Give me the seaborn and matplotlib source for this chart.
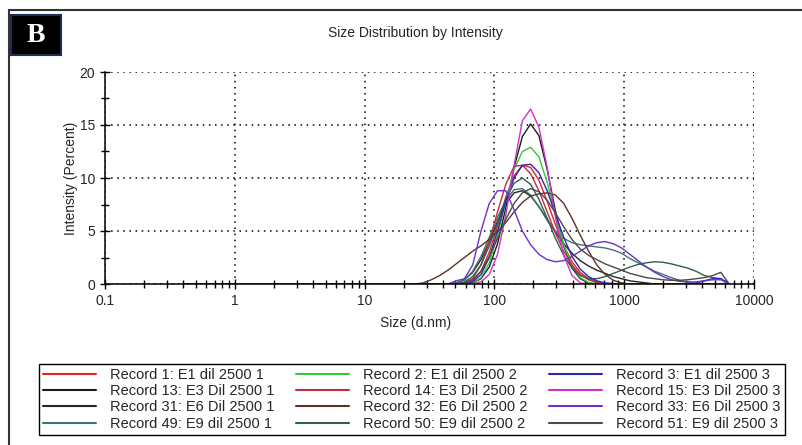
import numpy as np
import pandas as pd
import matplotlib
matplotlib.use('Agg')
import matplotlib.pyplot as plt
import seaborn as sns
from matplotlib.patches import Rectangle
from matplotlib.ticker import FixedLocator, LogLocator, NullFormatter, MultipleLocator

# DLS size bins (d.nm), values below 24 nm are all zero
size_nm = [0.4, 24.36, 28.21, 32.67, 37.84, 43.82, 50.75, 58.77, 68.06, 78.82,
           91.28, 105.7, 122.4, 141.8, 164.2, 190.1, 220.2, 255.0, 295.3, 342.0,
           396.1, 458.7, 531.2, 615.1, 712.4, 825.0, 955.4, 1106, 1281, 1484,
           1718, 1990, 2305, 2669, 3091, 3580, 4145, 4801, 5560, 6439]

rec1 = [0, 0, 0, 0, 0, 0, 0, 0, 0.3, 1.2,
        3.0, 5.5, 8.2, 10.2, 11.2, 11.0, 9.8, 7.8, 5.6, 3.6,
        2.1, 1.1, 0.5, 0.2, 0.05, 0, 0, 0, 0, 0,
        0, 0, 0, 0, 0, 0, 0, 0, 0, 0]
rec2 = [0, 0, 0, 0, 0, 0, 0, 0, 0.1, 0.6,
        2.0, 4.6, 7.8, 10.8, 12.5, 12.9, 12.0, 9.6, 6.5, 3.7,
        1.7, 0.6, 0.15, 0, 0, 0, 0, 0, 0, 0,
        0, 0, 0, 0, 0, 0, 0, 0, 0, 0]
rec3 = [0, 0, 0, 0, 0, 0, 0, 0, 0.2, 0.9,
        2.5, 5.0, 7.8, 10.0, 11.2, 11.3, 10.5, 8.8, 6.6, 4.4,
        2.6, 1.4, 0.7, 0.3, 0.1, 0.05, 0, 0, 0, 0,
        0, 0, 0, 0, 0, 0.1, 0.3, 0.5, 0.5, 0]
rec13 = [0, 0, 0, 0, 0, 0, 0, 0, 0.1, 0.5,
         1.6, 3.8, 7.2, 11.0, 13.9, 15.1, 14.0, 10.8, 6.9, 3.6,
         1.5, 0.5, 0.1, 0, 0, 0, 0, 0, 0, 0,
         0, 0, 0, 0, 0, 0, 0, 0, 0, 0]
rec14 = [0, 0, 0, 0, 0, 0, 0, 0.1, 0.5, 1.8,
         4.0, 6.8, 9.4, 11.1, 11.2, 10.4, 8.8, 6.8, 4.8, 3.1,
         1.8, 0.9, 0.4, 0.15, 0, 0, 0, 0, 0, 0,
         0, 0, 0, 0, 0, 0, 0, 0, 0, 0]
rec15 = [0, 0, 0, 0, 0, 0, 0, 0, 0, 0.2,
         0.9, 2.8, 6.5, 11.2, 15.4, 16.5, 14.8, 11.0, 6.3, 2.7,
         0.8, 0.1, 0, 0, 0, 0, 0, 0, 0, 0,
         0, 0, 0, 0, 0, 0, 0, 0, 0, 0]
rec31 = [0, 0, 0, 0, 0, 0, 0.1, 0.4, 1.1, 2.3,
         4.0, 5.9, 7.6, 8.6, 8.8, 8.3, 7.3, 6.1, 4.9, 3.8,
         2.9, 2.2, 1.7, 1.3, 1.0, 0.7, 0.5, 0.3, 0.2, 0.1,
         0, 0, 0, 0, 0, 0, 0, 0, 0, 0]
rec32 = [0, 0, 0.1, 0.4, 0.8, 1.3, 1.9, 2.5, 3.1, 3.6,
         4.2, 4.9, 5.8, 6.8, 7.7, 8.3, 8.5, 8.6, 8.4, 7.6,
         6.2, 4.6, 3.1, 1.8, 0.9, 0.35, 0.1, 0, 0, 0,
         0, 0, 0, 0, 0, 0, 0, 0, 0, 0]
rec33 = [0, 0, 0, 0, 0, 0, 0.3, 0.5, 1.8, 5.0,
         7.6, 8.8, 8.8, 7.0, 5.0, 3.7, 2.8, 2.3, 2.1, 2.2,
         2.6, 3.1, 3.6, 3.9, 4.0, 3.8, 3.4, 2.8, 2.2, 1.6,
         1.1, 0.7, 0.4, 0.25, 0.2, 0.2, 0.3, 0.4, 0.4, 0]
rec49 = [0, 0, 0, 0, 0, 0, 0.1, 0.4, 1.2, 2.6,
         4.4, 6.3, 7.9, 8.9, 9.0, 8.4, 7.3, 6.0, 5.0, 4.3,
         3.9, 3.7, 3.6, 3.5, 3.4, 3.2, 2.9, 2.4, 2.0, 1.6,
         1.2, 0.9, 0.6, 0.35, 0.15, 0.05, 0, 0, 0, 0]
rec50 = [0, 0, 0, 0, 0, 0, 0, 0.2, 0.7, 1.8,
         3.6, 5.8, 8.0, 9.5, 10.0, 9.4, 8.0, 6.2, 4.3, 2.7,
         1.5, 0.8, 0.5, 0.5, 0.7, 1.0, 1.3, 1.6, 1.85, 2.0,
         2.1, 2.05, 1.9, 1.7, 1.5, 1.2, 0.8, 0.6, 0.5, 0]
rec51 = [0, 0, 0, 0, 0, 0, 0, 0.1, 0.4, 1.2,
         2.6, 4.3, 6.1, 7.6, 8.6, 9.0, 8.7, 7.9, 6.7, 5.4,
         4.2, 3.3, 2.7, 2.3, 1.9, 1.6, 1.3, 1.0, 0.8, 0.6,
         0.5, 0.4, 0.35, 0.35, 0.4, 0.5, 0.6, 0.8, 1.1, 0]

records = {
    'Record 1: E1 dil 2500 1': (rec1, '#e3222b'),
    'Record 13: E3 Dil 2500 1': (rec13, '#1c1c1c'),
    'Record 31: E6 Dil 2500 1': (rec31, '#262626'),
    'Record 49: E9 dil 2500 1': (rec49, '#3f7474'),
    'Record 2: E1 dil 2500 2': (rec2, '#35c935'),
    'Record 14: E3 Dil 2500 2': (rec14, '#c42a45'),
    'Record 32: E6 Dil 2500 2': (rec32, '#5e3227'),
    'Record 50: E9 dil 2500 2': (rec50, '#2f5e4b'),
    'Record 3: E1 dil 2500 3': (rec3, '#2a2ab0'),
    'Record 15: E3 Dil 2500 3': (rec15, '#cc33cc'),
    'Record 33: E6 Dil 2500 3': (rec33, '#6a32cc'),
    'Record 51: E9 dil 2500 3': (rec51, '#4a4a4a'),
}

rows = []
for name, (vals, _) in records.items():
    for s, v in zip(size_nm, vals):
        rows.append((name, s, v))
df = pd.DataFrame(rows, columns=['record', 'size', 'intensity'])
palette = {k: c for k, (_, c) in records.items()}
order = list(records.keys())

sns.set_style('white')
plt.rcParams['font.family'] = ['Liberation Sans', 'DejaVu Sans']

W, H = 803, 445
fig = plt.figure(figsize=(W / 100, H / 100), dpi=100)
ax = fig.add_axes([105 / W, 1 - 284 / H, (754 - 105) / W, (284 - 72) / H])

sns.lineplot(data=df, x='size', y='intensity', hue='record', hue_order=order,
             palette=palette, estimator=None, sort=False, lw=1.0, ax=ax)
handles, labels = ax.get_legend_handles_labels()
ax.get_legend().remove()

ax.set_xscale('log')
ax.set_xlim(0.1, 10000)
ax.set_ylim(0, 20)
ax.xaxis.set_major_locator(FixedLocator([0.1, 1, 10, 100, 1000, 10000]))
ax.set_xticklabels(['0.1', '1', '10', '100', '1000', '10000'])
ax.xaxis.set_minor_locator(LogLocator(base=10, subs=np.arange(2, 10)))
ax.xaxis.set_minor_formatter(NullFormatter())
ax.yaxis.set_major_locator(MultipleLocator(5))
ax.yaxis.set_minor_locator(MultipleLocator(2.5))

ax.grid(True, which='major', color='black', linestyle=(0, (1, 3)), lw=1.1)
for side in ['top', 'right']:
    ax.spines[side].set_visible(False)
for side in ['left', 'bottom']:
    ax.spines[side].set_color('black')
    ax.spines[side].set_linewidth(1.1)
ax.tick_params(which='both', direction='inout', color='black', labelsize=10,
               bottom=True, left=True)
ax.tick_params(which='major', length=7, width=1)
ax.tick_params(which='minor', length=6, width=1)
ax.set_xlabel('')
ax.set_ylabel('Intensity (Percent)', fontsize=10)
ax.yaxis.set_label_coords((78 - 105) / (754 - 105), 0.5)

fig.text(416 / W, 1 - 323 / H, 'Size (d.nm)', ha='center', va='center', fontsize=10)
fig.text(415 / W, 1 - 33 / H, 'Size Distribution by Intensity', ha='center',
         va='center', fontsize=10)

# outer frame and panel letter
fig.add_artist(Rectangle((9 / W, -0.1), 1.2, 1.1 - 10 / H, transform=fig.transFigure,
                         fill=False, edgecolor='#333333', lw=1.5))
fig.add_artist(Rectangle((11 / W, 1 - 55 / H), 50 / W, 40 / H, transform=fig.transFigure,
                         facecolor='black', edgecolor='#1f2d55', lw=1.5))
fig.text(36 / W, 1 - 35 / H, 'B', color='white', fontsize=20, fontweight='bold',
         family=['Liberation Serif', 'DejaVu Serif'], ha='center', va='center')

leg = fig.legend(handles, labels, ncol=3, loc='lower left',
                 bbox_to_anchor=(39 / W, 1 - 435 / H, 746 / W, 70 / H), mode='expand',
                 frameon=True, fancybox=False, edgecolor='black', framealpha=1,
                 handlelength=3.6, handletextpad=1.0, labelspacing=0.15,
                 borderpad=0.3, borderaxespad=0,
                 prop={'family': ['Liberation Sans Narrow', 'Liberation Sans'], 'size': 10.5})
leg.get_frame().set_linewidth(1.0)
for line in leg.get_lines():
    line.set_linewidth(1.5)

fig.savefig('out.png', dpi=100)
